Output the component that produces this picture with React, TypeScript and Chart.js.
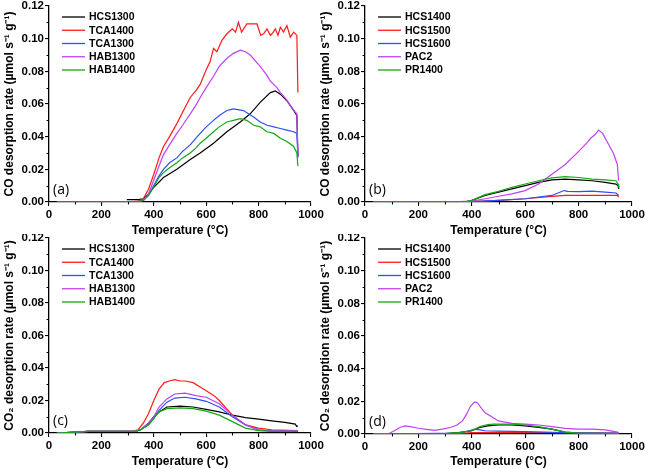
import React, { useEffect, useRef } from 'react';
import { Chart, registerables } from 'chart.js';
Chart.register(...registerables);

// ---------- Data ----------
const COLORS = ['#000000', '#ff1a1a', '#2f4ff5', '#c040f5', '#13a813'];

// Panel (a) CO
const A_NAMES = ['HCS1300', 'TCA1400', 'TCA1300', 'HAB1300', 'HAB1400'];
const A_HCS1300_T = [297, 340, 360, 380, 400, 437, 488, 539, 577, 628, 679, 730, 768, 806, 845, 864, 883, 908, 934, 946, 950];
const A_HCS1300_V = [0.0015, 0.0015, 0.002, 0.005, 0.009, 0.015, 0.020, 0.026, 0.030, 0.036, 0.043, 0.049, 0.054, 0.061, 0.067, 0.068, 0.066, 0.062, 0.056, 0.053, 0.028];
const A_TCA1400_T = [30, 300, 340, 360, 380, 400, 420, 437, 460, 488, 510, 539, 560, 577, 600, 615, 628, 641, 660, 679, 700, 712, 723, 735, 755, 775, 794, 808, 819, 832, 845, 856, 864, 874, 883, 895, 908, 921, 934, 946, 950];
const A_TCA1400_V = [0, 0, 0.0005, 0.002, 0.008, 0.017, 0.027, 0.034, 0.040, 0.048, 0.055, 0.064, 0.068, 0.072, 0.081, 0.086, 0.094, 0.092, 0.099, 0.103, 0.106, 0.104, 0.110, 0.104, 0.109, 0.109, 0.109, 0.102, 0.103, 0.106, 0.102, 0.104, 0.106, 0.102, 0.107, 0.104, 0.108, 0.101, 0.104, 0.102, 0.067];
const A_TCA1300_T = [30, 330, 360, 380, 399, 420, 437, 460, 488, 510, 539, 560, 577, 600, 628, 650, 679, 704, 742, 781, 806, 832, 858, 883, 908, 934, 946, 950];
const A_TCA1300_V = [0, 0, 0.001, 0.004, 0.010, 0.016, 0.020, 0.024, 0.027, 0.031, 0.035, 0.039, 0.042, 0.046, 0.050, 0.053, 0.056, 0.057, 0.056, 0.052, 0.049, 0.047, 0.046, 0.045, 0.044, 0.043, 0.042, 0.027];
const A_HAB1300_T = [30, 330, 360, 380, 399, 420, 437, 460, 488, 510, 539, 560, 577, 600, 628, 650, 679, 704, 730, 750, 768, 790, 806, 830, 845, 870, 883, 905, 921, 940, 946, 950];
const A_HAB1300_V = [0, 0, 0.001, 0.005, 0.013, 0.022, 0.029, 0.035, 0.042, 0.047, 0.054, 0.059, 0.064, 0.070, 0.077, 0.083, 0.088, 0.091, 0.093, 0.092, 0.090, 0.086, 0.083, 0.078, 0.074, 0.070, 0.067, 0.063, 0.059, 0.055, 0.054, 0.030];
const A_HAB1400_T = [30, 330, 360, 380, 399, 420, 437, 460, 488, 510, 539, 560, 577, 600, 628, 650, 679, 704, 730, 755, 781, 806, 832, 858, 883, 908, 934, 946, 950];
const A_HAB1400_V = [0, 0, 0.001, 0.004, 0.009, 0.015, 0.018, 0.021, 0.024, 0.027, 0.030, 0.033, 0.036, 0.039, 0.043, 0.046, 0.049, 0.050, 0.051, 0.050, 0.047, 0.046, 0.043, 0.042, 0.039, 0.037, 0.034, 0.030, 0.022];

// Panel (b) CO
const B_NAMES = ['HCS1400', 'HCS1500', 'HCS1600', 'PAC2', 'PR1400'];
const B_HCS1400_T = [30, 380, 400, 450, 500, 550, 600, 650, 700, 750, 800, 850, 900, 940, 948, 950];
const B_HCS1400_V = [0, 0.0003, 0.001, 0.004, 0.006, 0.008, 0.010, 0.012, 0.0135, 0.014, 0.0135, 0.013, 0.012, 0.011, 0.010, 0.008];
const B_HCS1500_T = [30, 400, 500, 600, 700, 750, 800, 900, 945, 950];
const B_HCS1500_V = [0, 0.0002, 0.001, 0.002, 0.0035, 0.004, 0.004, 0.004, 0.004, 0.003];
const B_HCS1600_T = [30, 400, 500, 600, 700, 730, 745, 760, 800, 850, 900, 940, 950];
const B_HCS1600_V = [0, 0.0003, 0.001, 0.002, 0.004, 0.006, 0.007, 0.0065, 0.0063, 0.0066, 0.006, 0.0055, 0.004];
const B_PAC2_T = [30, 350, 400, 450, 500, 550, 600, 650, 700, 750, 800, 830, 845, 860, 875, 890, 910, 930, 945, 950];
const B_PAC2_V = [0, 0.0002, 0.0005, 0.002, 0.0035, 0.005, 0.007, 0.011, 0.017, 0.023, 0.031, 0.036, 0.039, 0.041, 0.044, 0.042, 0.036, 0.030, 0.023, 0.013];
const B_PR1400_T = [30, 380, 400, 450, 500, 550, 600, 650, 700, 750, 800, 850, 900, 940, 948, 950];
const B_PR1400_V = [0, 0.0003, 0.001, 0.0045, 0.0065, 0.009, 0.011, 0.013, 0.0148, 0.0155, 0.015, 0.014, 0.0135, 0.013, 0.011, 0.009];

// Panel (c) CO2
const C_NAMES = ['HCS1300', 'TCA1400', 'TCA1300', 'HAB1300', 'HAB1400'];
const C_HCS1300_T = [30, 100, 150, 330, 350, 380, 400, 420, 450, 500, 550, 600, 650, 700, 750, 800, 850, 900, 940, 945, 950];
const C_HCS1300_V = [0, 0.0005, 0.001, 0.001, 0.002, 0.006, 0.010, 0.013, 0.016, 0.0165, 0.016, 0.0145, 0.013, 0.011, 0.0095, 0.0085, 0.0075, 0.0065, 0.0055, 0.004, 0.0045];
const C_TCA1400_T = [30, 100, 150, 320, 340, 360, 380, 400, 420, 440, 460, 480, 500, 520, 550, 580, 600, 630, 650, 700, 750, 800, 850, 950];
const C_TCA1400_V = [0, 0.0005, 0.001, 0.001, 0.002, 0.006, 0.012, 0.020, 0.027, 0.031, 0.032, 0.0328, 0.032, 0.032, 0.031, 0.028, 0.026, 0.023, 0.020, 0.011, 0.005, 0.003, 0.002, 0.0015];
const C_TCA1300_T = [30, 100, 150, 330, 350, 380, 400, 420, 450, 480, 520, 560, 600, 650, 700, 750, 800, 850, 950];
const C_TCA1300_V = [0, 0.0005, 0.001, 0.001, 0.002, 0.005, 0.009, 0.014, 0.019, 0.0215, 0.022, 0.021, 0.0195, 0.016, 0.010, 0.005, 0.002, 0.0012, 0.001];
const C_HAB1300_T = [30, 100, 150, 330, 350, 380, 400, 420, 450, 480, 520, 560, 600, 650, 700, 750, 800, 850, 950];
const C_HAB1300_V = [0, 0.0005, 0.001, 0.001, 0.002, 0.006, 0.010, 0.016, 0.021, 0.024, 0.0245, 0.023, 0.022, 0.018, 0.011, 0.005, 0.002, 0.0015, 0.0015];
const C_HAB1400_T = [30, 100, 150, 330, 350, 380, 400, 420, 450, 500, 550, 600, 650, 700, 750, 800, 850, 950];
const C_HAB1400_V = [0, 0.0005, 0.001, 0.001, 0.002, 0.005, 0.009, 0.013, 0.015, 0.0155, 0.015, 0.0135, 0.011, 0.007, 0.003, 0.0015, 0.001, 0.001];

// Panel (d) CO2
const D_NAMES = ['HCS1400', 'HCS1500', 'HCS1600', 'PAC2', 'PR1400'];
const D_HCS1400_T = [30, 300, 350, 400, 430, 460, 500, 550, 600, 650, 700, 750, 800, 950];
const D_HCS1400_V = [0, 0.0003, 0.0008, 0.002, 0.004, 0.005, 0.0055, 0.0055, 0.005, 0.004, 0.003, 0.0012, 0.0005, 0.0003];
const D_HCS1500_T = [30, 350, 400, 500, 600, 700, 800, 950];
const D_HCS1500_V = [0, 0.0003, 0.0008, 0.001, 0.001, 0.0008, 0.0006, 0.0005];
const D_HCS1600_T = [30, 350, 390, 410, 430, 450, 500, 600, 700, 800, 950];
const D_HCS1600_V = [0, 0.0005, 0.002, 0.003, 0.0025, 0.002, 0.0018, 0.0015, 0.001, 0.0007, 0.0005];
const D_PAC2_T = [30, 90, 110, 130, 150, 170, 200, 230, 260, 290, 320, 345, 365, 380, 395, 410, 420, 435, 450, 470, 500, 550, 600, 650, 700, 750, 800, 850, 900, 950];
const D_PAC2_V = [0, 0.0003, 0.002, 0.004, 0.005, 0.0045, 0.0035, 0.0028, 0.0022, 0.003, 0.004, 0.0055, 0.008, 0.012, 0.017, 0.0195, 0.0193, 0.016, 0.013, 0.011, 0.008, 0.0065, 0.006, 0.0055, 0.0045, 0.0035, 0.003, 0.003, 0.0025, 0.001];
const D_PR1400_T = [30, 300, 350, 400, 430, 460, 480, 550, 600, 650, 700, 750, 800, 950];
const D_PR1400_V = [0, 0.0003, 0.0008, 0.002, 0.0045, 0.0058, 0.006, 0.006, 0.0055, 0.0045, 0.003, 0.0012, 0.0005, 0.0003];

const X_TITLE = 'Temperature (°C)';
const Y_TITLE_CO = 'CO desorption rate (µmol s⁻¹ g⁻¹)';
const Y_TITLE_CO2 = 'CO₂ desorption rate (µmol s⁻¹ g⁻¹)';

// ---------- Layout ----------
type Series = { name: string; t: number[]; v: number[] };
type PanelCfg = {
  left: number; top: number; width: number; height: number;
  padTop: number; padRight: number; yAxisWidth: number; xAxisHeight: number;
  yTitle: string; tag: string; series: Series[];
};

const mk = (names: string[], ts: number[][], vs: number[][]): Series[] =>
  names.map((n, i) => ({ name: n, t: ts[i], v: vs[i] }));

const PANELS: PanelCfg[] = [
  {
    left: 0, top: 0, width: 330, height: 238, padTop: 6, padRight: 19, yAxisWidth: 49, xAxisHeight: 36,
    yTitle: Y_TITLE_CO, tag: '(a)',
    series: mk(A_NAMES, [A_HCS1300_T, A_TCA1400_T, A_TCA1300_T, A_HAB1300_T, A_HAB1400_T],
      [A_HCS1300_V, A_TCA1400_V, A_TCA1300_V, A_HAB1300_V, A_HAB1400_V]),
  },
  {
    left: 316, top: 0, width: 329, height: 238, padTop: 6, padRight: 13, yAxisWidth: 49, xAxisHeight: 36,
    yTitle: Y_TITLE_CO, tag: '(b)',
    series: mk(B_NAMES, [B_HCS1400_T, B_HCS1500_T, B_HCS1600_T, B_PAC2_T, B_PR1400_T],
      [B_HCS1400_V, B_HCS1500_V, B_HCS1600_V, B_PAC2_V, B_PR1400_V]),
  },
  {
    left: 0, top: 234, width: 330, height: 235, padTop: 4, padRight: 19, yAxisWidth: 49, xAxisHeight: 36,
    yTitle: Y_TITLE_CO2, tag: '(c)',
    series: mk(C_NAMES, [C_HCS1300_T, C_TCA1400_T, C_TCA1300_T, C_HAB1300_T, C_HAB1400_T],
      [C_HCS1300_V, C_TCA1400_V, C_TCA1300_V, C_HAB1300_V, C_HAB1400_V]),
  },
  {
    left: 316, top: 234, width: 329, height: 235, padTop: 4, padRight: 13, yAxisWidth: 49, xAxisHeight: 35,
    yTitle: Y_TITLE_CO2, tag: '(d)',
    series: mk(D_NAMES, [D_HCS1400_T, D_HCS1500_T, D_HCS1600_T, D_PAC2_T, D_PR1400_T],
      [D_HCS1400_V, D_HCS1500_V, D_HCS1600_V, D_PAC2_V, D_PR1400_V]),
  },
];

const FAMILY = '"Liberation Sans", Arial, sans-serif';
const TICK_FONT = { family: FAMILY, size: 11.5, weight: 'bold' as const };
const TITLE_FONT = { family: FAMILY, size: 12, weight: 'bold' as const };

function Panel({ cfg }: { cfg: PanelCfg }) {
  const ref = useRef<HTMLCanvasElement>(null);
  useEffect(() => {
    const canvas = ref.current!;
    const decor = {
      id: 'decor',
      afterDraw(chart: any) {
        const ctx = chart.ctx as CanvasRenderingContext2D;
        const area = chart.chartArea;
        const xs = chart.scales.x;
        const ys = chart.scales.y;
        ctx.save();
        // minor ticks
        ctx.strokeStyle = '#000';
        ctx.lineWidth = 1.1;
        ctx.beginPath();
        for (let v = 100; v < 1000; v += 200) {
          const px = Math.round(xs.getPixelForValue(v)) + 0.5;
          ctx.moveTo(px, area.bottom);
          ctx.lineTo(px, area.bottom + 2.5);
        }
        for (let k = 1; k < 12; k += 2) {
          const py = Math.round(ys.getPixelForValue(k * 0.01)) + 0.5;
          ctx.moveTo(area.left, py);
          ctx.lineTo(area.left - 2.5, py);
        }
        ctx.stroke();
        // legend
        ctx.font = `bold 10.5px ${FAMILY}`;
        ctx.textBaseline = 'middle';
        ctx.textAlign = 'left';
        cfg.series.forEach((s, i) => {
          const y = area.top + 11 + i * 13.25;
          ctx.strokeStyle = COLORS[i];
          ctx.lineWidth = 1.3;
          ctx.beginPath();
          ctx.moveTo(area.left + 13, y);
          ctx.lineTo(area.left + 36, y);
          ctx.stroke();
          ctx.fillStyle = '#000';
          ctx.fillText(s.name, area.left + 40, y + 0.5);
        });
        // panel tag
        ctx.font = `14px "Open Sans", ${FAMILY}`;
        ctx.fillStyle = '#000';
        ctx.fillText(cfg.tag, area.left + 4, area.bottom - 12);
        ctx.restore();
      },
    };
    const n = cfg.series.length;
    const chart = new Chart(canvas, {
      type: 'line',
      data: {
        datasets: cfg.series.map((s, i) => ({
          label: s.name,
          data: s.t.map((t, j) => ({ x: t, y: s.v[j] })),
          borderColor: COLORS[i],
          backgroundColor: COLORS[i],
          borderWidth: 1.2,
          pointRadius: 0,
          tension: 0,
          fill: false,
          order: n - i,
        })),
      },
      options: {
        animation: false,
        responsive: false,
        maintainAspectRatio: false,
        devicePixelRatio: 1,
        events: [],
        layout: { padding: { left: 0, top: cfg.padTop, right: cfg.padRight, bottom: 0 } },
        plugins: { legend: { display: false }, tooltip: { enabled: false } },
        scales: {
          x: {
            type: 'linear',
            min: 0,
            max: 1000,
            ticks: {
              stepSize: 200, font: TICK_FONT, color: '#000', padding: 2, maxRotation: 0, autoSkip: false,
              callback: (v: any) => String(Math.round(Number(v))),
            },
            grid: { display: true, drawOnChartArea: false, drawTicks: true, tickLength: 4, color: '#000', lineWidth: 1.1 },
            border: { display: true, color: '#000', width: 1.3 },
            title: { display: true, text: X_TITLE, font: TITLE_FONT, color: '#000', padding: 0 },
            afterFit: (s: any) => { s.height = cfg.xAxisHeight; s.paddingLeft = 0; s.paddingRight = 0; },
          },
          y: {
            type: 'linear',
            min: 0,
            max: 0.12,
            ticks: {
              stepSize: 0.02, font: TICK_FONT, color: '#000', padding: 1, autoSkip: false,
              callback: (v: any) => Number(v).toFixed(2),
            },
            grid: { display: true, drawOnChartArea: false, drawTicks: true, tickLength: 4, color: '#000', lineWidth: 1.1 },
            border: { display: true, color: '#000', width: 1.3 },
            title: { display: true, text: cfg.yTitle, font: TITLE_FONT, color: '#000', padding: { top: 2, bottom: 0 } },
            afterFit: (s: any) => { s.width = cfg.yAxisWidth; s.paddingTop = 0; s.paddingBottom = 0; },
          },
        },
      } as any,
      plugins: [decor],
    });
    return () => chart.destroy();
  }, [cfg]);
  return (
    <canvas
      ref={ref}
      width={cfg.width}
      height={cfg.height}
      style={{ position: 'absolute', left: cfg.left, top: cfg.top, width: cfg.width, height: cfg.height }}
    />
  );
}

export default function App() {
  return (
    <div style={{ position: 'absolute', left: 0, top: 0, width: 645, height: 469, overflow: 'hidden', background: '#fff' }}>
      {PANELS.map((p, i) => <Panel key={i} cfg={p} />)}
    </div>
  );
}
